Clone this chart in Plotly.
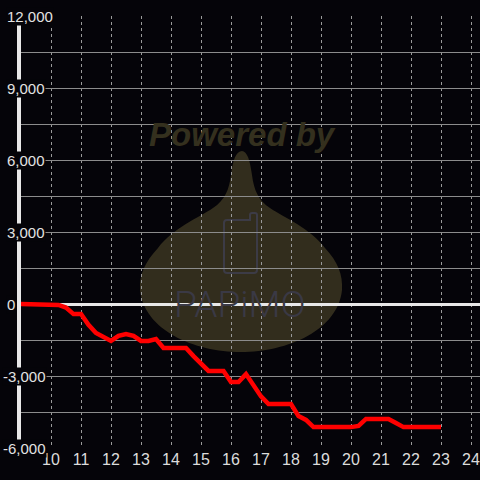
import plotly.graph_objects as go

# ---- data ----
hours = [9.0, 9.25, 9.5, 9.75, 10.0, 10.25, 10.5, 10.75, 11.0, 11.25, 11.5, 11.75,
         12.0, 12.25, 12.5, 12.75, 13.0, 13.25, 13.5, 13.75, 14.0, 14.25, 14.5, 14.75,
         15.0, 15.25, 15.5, 15.75, 16.0, 16.25, 16.5, 16.75, 17.0, 17.25, 17.5, 17.75,
         18.0, 18.25, 18.5, 18.75, 19.0, 19.25, 19.5, 19.75, 20.0, 20.25, 20.5, 20.75,
         21.0, 21.25, 21.5, 21.75, 22.0, 22.25, 22.5, 22.75, 23.0]
balance = [0, 0, 0, 0, 0, -40, -150, -420, -420, -870, -1210, -1400,
           -1540, -1330, -1250, -1330, -1540, -1540, -1460, -1830, -1830, -1830, -1830, -2170,
           -2470, -2790, -2790, -2790, -3250, -3250, -2920, -3400, -3850, -4170, -4170, -4170,
           -4170, -4670, -4830, -5130, -5130, -5130, -5130, -5130, -5130, -5080, -4790, -4790,
           -4790, -4790, -4960, -5130, -5130, -5130, -5130, -5130, -5130]
x_ticks = [10, 11, 12, 13, 14, 15, 16, 17, 18, 19, 20, 21, 22, 23, 24]
x_tick_labels = [str(v) for v in x_ticks]
y_label_vals = [-6000, -3000, 0, 3000, 6000, 9000, 12000]
y_grid_vals = [-6000, -4500, -3000, -1500, 0, 1500, 3000, 4500, 6000, 7500, 9000, 10500, 12000]

BG = "#050409"
W, H = 480, 480
ML, MR, MT, MB = 21, 0, 16, 32
PW, PH = W - ML - MR, H - MT - MB


def px(x, y):
    return (x - ML) / PW, (H - MB - y) / PH


def path(cmds):
    out = []
    for c in cmds:
        if isinstance(c, str):
            out.append(c)
        else:
            a, b = px(*c)
            out.append(f"{a:.5f},{b:.5f}")
    return " ".join(out)


onion = path([
    "M", (242, 151),
    "C", (247, 151), (250, 160), (252, 175),
    "C", (254, 190), (258, 200), (270, 208),
    "C", (285, 218), (310, 228), (325, 248),
    "C", (338, 262), (343, 275), (342, 290),
    "C", (338, 330), (288, 352), (241, 352),
    "C", (194, 352), (144, 330), (140, 290),
    "C", (139, 275), (145, 262), (158, 248),
    "C", (173, 228), (198, 218), (213, 208),
    "C", (225, 200), (229, 190), (231, 175),
    "C", (233, 160), (236, 151), (242, 151), "Z",
])
phone = path([
    "M", (224, 223), "Q", (224, 220), (227, 220), "L", (250, 220),
    "L", (250, 215), "Q", (250, 213), (252, 213), "L", (255, 213),
    "Q", (257, 213), (257, 215), "L", (257, 270), "Q", (257, 273), (254, 273),
    "L", (227, 273), "Q", (224, 273), (224, 270), "Z",
])

fig = go.Figure()
fig.add_trace(go.Scatter(
    x=hours, y=balance, mode="lines",
    line=dict(color="#ff0000", width=4.5),
    hoverinfo="skip", showlegend=False,
))

fig.add_shape(type="path", path=onion, xref="paper", yref="paper",
              fillcolor="#322d1d", line=dict(width=0), layer="below")
fig.add_shape(type="path", path=phone, xref="paper", yref="paper",
              fillcolor="rgba(0,0,0,0)", line=dict(color="#3c3b46", width=2), layer="below")

wx, wy = px(242, 134)
fig.add_annotation(x=wx, y=wy, xref="paper", yref="paper", text="Powered by",
                   showarrow=False, xanchor="center", yanchor="middle",
                   font=dict(family="Liberation Sans", size=33, color="#34301e",
                             weight="bold", style="italic"))
lx, ly = px(240, 304)
fig.add_annotation(x=lx, y=ly, xref="paper", yref="paper", text="PAPiMO",
                   showarrow=False, xanchor="center", yanchor="middle",
                   font=dict(family="Roboto", size=37, color="#3a3945", weight=300))

pos_x, _ = px(6, 0)
neg_x, _ = px(2, 0)
for v in y_label_vals:
    fig.add_annotation(x=(neg_x if v < 0 else pos_x), y=v, xref="paper", yref="y",
                       text=f"{v:,}",
                       showarrow=False, xanchor="left", yanchor="middle",
                       bgcolor=BG, borderpad=0,
                       font=dict(family="Liberation Sans", size=15, color="#e2e2e2"))

fig.update_layout(
    width=W, height=H,
    margin=dict(l=ML, r=MR, t=MT, b=MB),
    paper_bgcolor=BG, plot_bgcolor=BG,
    hovermode=False,
    xaxis=dict(
        range=[9, 24.3], tickmode="array", tickvals=x_ticks, ticktext=x_tick_labels,
        showgrid=True, gridcolor="#9a9a9a", gridwidth=1, griddash="3px,3px",
        zeroline=False, showline=False, ticks="",
        tickfont=dict(family="Liberation Sans", size=16, color="#dcdcdc"),
    ),
    yaxis=dict(
        range=[-6000, 12000], tickmode="array", tickvals=y_grid_vals,
        showticklabels=False, ticks="",
        showgrid=True, gridcolor="#8c8c8c", gridwidth=1,
        zeroline=True, zerolinecolor="#e8e8e8", zerolinewidth=3,
        showline=True, linecolor="#e8e8e8", linewidth=4,
    ),
)

fig.write_html(
    "out.html",
    config={"displayModeBar": False},
    post_script="document.body.style.margin='0px';document.body.style.background='%s';" % BG,
)
